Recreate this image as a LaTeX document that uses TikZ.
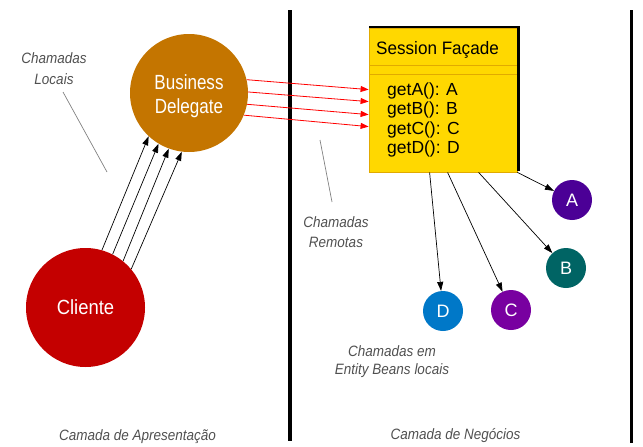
\documentclass[tikz,border=0pt]{standalone}
\usepackage{fontspec}
\setmainfont{Liberation Sans}
\newfontfamily\labfont[FakeStretch=0.9]{Liberation Sans}
\newfontfamily\bdfont[FakeStretch=0.83]{Liberation Sans}
\newfontfamily\clfont[FakeStretch=0.9]{Liberation Sans}
\newfontfamily\sffont[FakeStretch=0.95]{Liberation Sans}
\usetikzlibrary{arrows.meta,calc}
\definecolor{bdcol}{RGB}{196,117,0}
\definecolor{clcol}{RGB}{196,0,0}
\definecolor{boxfill}{RGB}{255,216,0}
\definecolor{boxedge}{RGB}{225,170,0}
\definecolor{acol}{RGB}{75,0,150}
\definecolor{bcol}{RGB}{0,100,100}
\definecolor{ccol}{RGB}{120,0,160}
\definecolor{dcol}{RGB}{0,120,200}
\definecolor{labgray}{RGB}{80,80,80}
\definecolor{ptrgray}{RGB}{128,128,128}
\begin{document}
\begin{tikzpicture}[x=1pt,y=-1pt,
  lab/.style={font=\labfont\itshape\fontsize{15}{20.5}\selectfont, text=labgray, align=center, inner sep=0},
  bigcirc/.style={circle, inner sep=0, text=white, align=center},
  ent/.style={circle, inner sep=0, minimum size=40pt, text=white, font=\fontsize{18}{20}\selectfont},
  meth/.style={anchor=west, inner sep=0, font=\fontsize{17.5}{19.5}\selectfont},
  redarr/.style={red, line width=0.8pt, -{Triangle[length=8pt,width=6pt]}},
  blkarr/.style={black, line width=0.7pt, -{Triangle[length=9pt,width=6pt]}},
  ptr/.style={ptrgray, line width=0.7pt},
  divider/.style={black, line width=3.8pt}]
\useasboundingbox (0,0) rectangle (643,447);

% layer dividers
\draw[divider] (290,10) -- (290,441);
\draw[divider] (631.5,10) -- (631.5,443);

% circles
\node[bigcirc, fill=bdcol, minimum size=118pt] (bd) at (189,93) {};
\node[inner sep=0, text=white, align=center, font=\bdfont\fontsize{20.5}{23.5}\selectfont] (bdtext) at (189,96) {Business\\Delegate};
\node[bigcirc, fill=clcol, minimum size=119pt, font=\clfont\fontsize{20.5}{22}\selectfont] (cl) at (85.5,307.5) {Cliente};

% session facade box
\node[draw=boxedge, fill=boxfill, line width=0.8pt, minimum width=148pt, minimum height=144pt, inner sep=0] (sf) at (443,100) {};
\draw[black, line width=2.2pt] (369,27) -- (518.5,27) -- (518.5,171);
\draw[boxedge, line width=0.9pt] (369,65.5) -- (517,65.5);
\draw[boxedge, line width=0.9pt] (369,74) -- (517,74);
\node[anchor=west, inner sep=0, font=\sffont\fontsize{18}{20}\selectfont] (sft) at (376,50) {Session Façade};
\node[meth] (mA) at (387,91) {getA(): A};
\node[meth] (mB) at (387,110) {getB(): B};
\node[meth] (mC) at (387,129.5) {getC(): C};
\node[meth] (mD) at (387,149) {getD(): D};

% entity beans
\node[ent, fill=acol] (A) at (572,200) {A};
\node[ent, fill=bcol] (B) at (566,268) {B};
\node[ent, fill=ccol] (C) at (511,310) {C};
\node[ent, fill=dcol] (D) at (443,311) {D};

% local calls client -> delegate
\draw[blkarr] (cl.74) -- (bd.227);
\draw[blkarr] (cl.63) -- (bd.239);
\draw[blkarr] (cl.51) -- (bd.250);
\draw[blkarr] (cl.40) -- (bd.263);

% remote calls delegate -> facade
\draw[redarr] (bd.13) -- ([yshift=-62pt]sf.north west);
\draw[redarr] (bd.1) -- ([yshift=-74pt]sf.north west);
\draw[redarr] (bd.-11) -- ([yshift=-87pt]sf.north west);
\draw[redarr] (bd.-22) -- ([yshift=-99pt]sf.north west);

% facade -> entity beans
\draw[blkarr] (sf.south east) -- (A);
\draw[blkarr] ([xshift=110pt]sf.south west) -- (B);
\draw[blkarr] ([xshift=79pt]sf.south west) -- (C);
\draw[blkarr] ([xshift=61pt]sf.south west) -- (D);

% labels and pointers
\node[lab] (locais) at (54,68.5) {Chamadas\\Locais};
\coordinate (p1a) at (63,92);
\coordinate (p1b) at (107,172);
\draw[ptr] (p1a) -- (p1b);
\node[lab] (remotas) at (336,232) {Chamadas\\Remotas};
\coordinate (p2a) at (320,140);
\coordinate (p2b) at (332,202);
\draw[ptr] (p2a) -- (p2b);
\node[lab, font=\labfont\itshape\fontsize{15}{18.5}\selectfont] (entlab) at (392,361.5) {Chamadas em\\Entity Beans locais};
\node[lab] (apres) at (137.5,436.5) {Camada de Apresentação};
\node[lab] (neg) at (455.5,435.5) {Camada de Negócios};
\end{tikzpicture}
\end{document}
